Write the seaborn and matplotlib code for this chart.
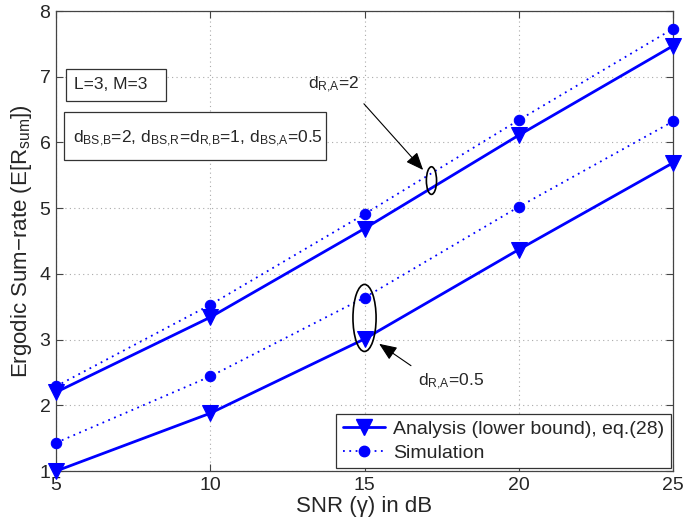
import numpy as np
import pandas as pd
import seaborn as sns
import matplotlib.pyplot as plt
from matplotlib.patches import Ellipse, Rectangle
from matplotlib.lines import Line2D

# values
snr_db = [5, 10, 15, 20, 25]
analysis_d2 = [2.20, 3.34, 4.69, 6.11, 7.47]
sim_d2 = [2.29, 3.53, 4.91, 6.34, 7.73]
analysis_d05 = [1.00, 1.88, 3.01, 4.37, 5.69]
sim_d05 = [1.43, 2.44, 3.64, 5.02, 6.32]

x_ticks = [5, 10, 15, 20, 25]
y_ticks = [1, 2, 3, 4, 5, 6, 7, 8]

sns.set_style("ticks")
plt.rcParams['font.family'] = ['Liberation Sans', 'DejaVu Sans']
plt.rcParams['mathtext.fontset'] = 'custom'
plt.rcParams['mathtext.rm'] = 'Liberation Sans'
plt.rcParams['mathtext.it'] = 'Liberation Sans'
plt.rcParams['mathtext.default'] = 'regular'

fig, ax = plt.subplots(figsize=(6.85, 5.24), dpi=100)
fig.subplots_adjust(left=0.0818, right=0.9825, top=0.979, bottom=0.101)

blue = "#0000ff"
for a_vals, s_vals in [(analysis_d2, sim_d2), (analysis_d05, sim_d05)]:
    sns.lineplot(x=snr_db, y=a_vals, ax=ax, color=blue, lw=2, marker='v',
                 markersize=11, markeredgecolor=blue, zorder=4, clip_on=False)
    sns.lineplot(x=snr_db, y=s_vals, ax=ax, color=blue, lw=1.3, linestyle=(0, (1, 2.5)),
                 marker='o', markersize=7.5, markeredgecolor=blue, zorder=4, clip_on=False)

ax.set_xlim(5, 25)
ax.set_ylim(1, 8)
ax.set_xticks(x_ticks)
ax.set_yticks(y_ticks)
ax.tick_params(direction='in', top=True, right=True, length=5, width=0.8,
               labelsize=14, color='#444444', pad=4)
ax.grid(True, linestyle=(0, (1, 3)), color='#aaaaaa', lw=0.8)
for sp in ax.spines.values():
    sp.set_color('#444444')
    sp.set_linewidth(0.9)

ax.set_xlabel("SNR (\u03b3) in dB", fontsize=16, labelpad=2)
ax.set_ylabel("Ergodic Sum\u2212rate (E[R$_{sum}$])", fontsize=16, labelpad=4)

# parameter boxes
ax.add_patch(Rectangle((5.33, 6.63), 3.24, 0.49, facecolor='white', edgecolor='#333333',
                       lw=0.9, zorder=5))
ax.text(5.58, 6.82, "L=3, M=3", fontsize=12.5, zorder=6)
ax.add_patch(Rectangle((5.25, 5.73), 8.5, 0.74, facecolor='white', edgecolor='#333333',
                       lw=0.9, zorder=5))
ax.text(5.54, 6.0, "d$_{BS{,}B}$=2, d$_{BS{,}R}$=d$_{R{,}B}$=1, d$_{BS{,}A}$=0.5",
        fontsize=12.5, zorder=6)

# ellipses and arrows
ax.add_patch(Ellipse((17.17, 5.42), 0.33, 0.42, fill=False, edgecolor='black', lw=1.2, zorder=6))
ax.add_patch(Ellipse((15.0, 3.33), 0.75, 1.02, fill=False, edgecolor='black', lw=1.2, zorder=6))
ax.annotate("", xy=(16.96, 5.55), xytext=(14.92, 6.62),
            arrowprops=dict(arrowstyle='-|>,head_length=0.6,head_width=0.25', color='black',
                            lw=0.8, mutation_scale=18), zorder=6)
ax.annotate("", xy=(15.40, 2.96), xytext=(16.58, 2.58),
            arrowprops=dict(arrowstyle='-|>,head_length=0.6,head_width=0.25', color='black',
                            lw=0.8, mutation_scale=18), zorder=6)
ax.text(13.18, 6.81, "d$_{R{,}A}$=2", fontsize=12.5, zorder=6)
ax.text(16.72, 2.30, "d$_{R{,}A}$=0.5", fontsize=12.5, zorder=6)

handles = [
    Line2D([], [], color=blue, lw=2, marker='v', markersize=11),
    Line2D([], [], color=blue, lw=1.3, linestyle=(0, (1, 2.5)), marker='o', markersize=7.5),
]
leg = ax.legend(handles, ["Analysis (lower bound), eq.(28)", "Simulation"],
                loc='lower right', bbox_to_anchor=(0.997, 0.006), borderaxespad=0,
                fontsize=14, fancybox=False, framealpha=1, edgecolor='#333333',
                handlelength=2.2, handletextpad=0.4, labelspacing=0.3, borderpad=0.35)
leg.get_frame().set_linewidth(0.9)
leg.set_zorder(7)

plt.savefig("out.png", dpi=100)
plt.close()
